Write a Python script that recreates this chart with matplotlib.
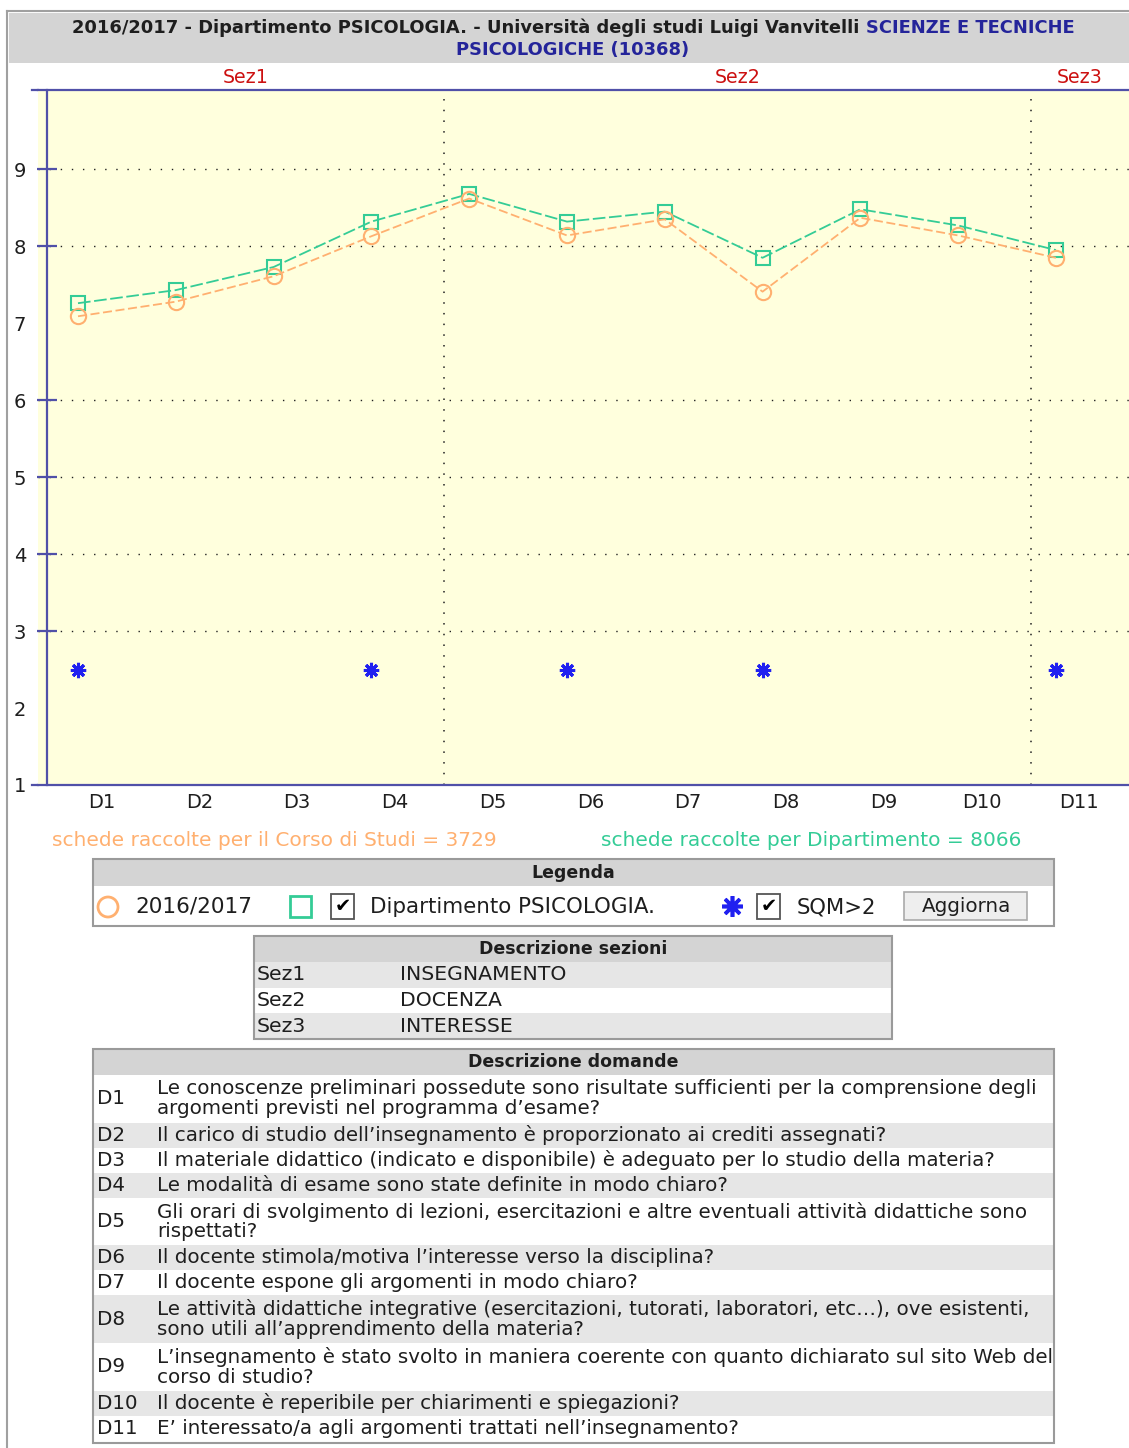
import matplotlib
matplotlib.use('Agg')
import matplotlib.pyplot as plt
from matplotlib.patches import Rectangle, Circle
import numpy as np

# --- Data ---
QUESTIONS = ['D1', 'D2', 'D3', 'D4', 'D5', 'D6', 'D7', 'D8', 'D9', 'D10', 'D11']
CORSO = [7.09, 7.28, 7.61, 8.13, 8.62, 8.14, 8.35, 7.41, 8.37, 8.14, 7.85]
DIPARTIMENTO = [7.26, 7.43, 7.73, 8.32, 8.68, 8.32, 8.45, 7.85, 8.48, 8.27, 7.95]
SQM_FLAGGED = ['D1', 'D4', 'D6', 'D8', 'D11']
SQM_LEVEL = 2.5
SECTIONS = ['Sez1', 'Sez2', 'Sez3']
SECTION_FIRST = ['D1', 'D5', 'D11']
SECTION_NAMES = ['INSEGNAMENTO', 'DOCENZA', 'INTERESSE']
Y_LABELS = [1, 2, 3, 4, 5, 6, 7, 8, 9]
GRID_LEVELS = [3, 4, 5, 6, 8, 9]
N_CORSO = 3729
N_DIPARTIMENTO = 8066
QUESTION_TEXT = [
    "Le conoscenze preliminari possedute sono risultate sufficienti per la comprensione degli\nargomenti previsti nel programma d\u2019esame?",
    "Il carico di studio dell\u2019insegnamento \u00e8 proporzionato ai crediti assegnati?",
    "Il materiale didattico (indicato e disponibile) \u00e8 adeguato per lo studio della materia?",
    "Le modalit\u00e0 di esame sono state definite in modo chiaro?",
    "Gli orari di svolgimento di lezioni, esercitazioni e altre eventuali attivit\u00e0 didattiche sono\nrispettati?",
    "Il docente stimola/motiva l\u2019interesse verso la disciplina?",
    "Il docente espone gli argomenti in modo chiaro?",
    "Le attivit\u00e0 didattiche integrative (esercitazioni, tutorati, laboratori, etc\u2026), ove esistenti,\nsono utili all\u2019apprendimento della materia?",
    "L\u2019insegnamento \u00e8 stato svolto in maniera coerente con quanto dichiarato sul sito Web del\ncorso di studio?",
    "Il docente \u00e8 reperibile per chiarimenti e spiegazioni?",
    "E\u2019 interessato/a agli argomenti trattati nell\u2019insegnamento?",
]

# --- Style ---
ORANGE = '#FFB070'
GREEN = '#34CC96'
STAR_BLUE = '#2020F0'
AXIS_BLUE = '#5050A8'
TITLE_BLUE = '#24249A'
SEZ_RED = '#CC1010'
TEXT = '#1E1E1E'
HEAD_GRAY = '#D4D4D4'
ROW_GRAY = '#E6E6E6'
FRAME = '#A0A0A0'
DOTS = (0, (1, 7))

W, H = 1129, 1448
plt.rcParams['font.family'] = 'DejaVu Sans'

fig = plt.figure(figsize=(W / 100, H / 100), dpi=100)

# page layer in pixel coordinates (y downwards)
page = fig.add_axes([0, 0, 1, 1])
page.set_xlim(0, W)
page.set_ylim(H, 0)
page.axis('off')
page.set_zorder(0)


def px_rect(x0, y0, x1, y1):
    return [x0 / W, 1 - y1 / H, (x1 - x0) / W, (y1 - y0) / H]


ax = fig.add_axes(px_rect(38, 90, 1129, 785))
ax.set_zorder(1)
ax.set_facecolor('#FFFFDD')

x = np.arange(1, len(QUESTIONS) + 1)
label_shift = 0.24
spine_x = 0.683
x_right = 11.747
ax.set_xlim(0.591, x_right)
ax.set_ylim(1, 10.03)

# spines
ax.spines['right'].set_visible(False)
ax.spines['left'].set_position(('data', spine_x))
for s in ['left', 'top', 'bottom']:
    ax.spines[s].set_color(AXIS_BLUE)
    ax.spines[s].set_linewidth(1.6)

# y axis: labels on every unit, ticks + grid only at some levels
ax.yaxis.remove_overlapping_locs = False
ax.set_yticks(Y_LABELS)
ax.set_yticks(GRID_LEVELS, minor=True)
ax.tick_params(axis='y', which='major', length=0, pad=15, labelsize=14, labelcolor=TEXT)
ax.tick_params(axis='y', which='minor', direction='inout', length=15, width=1.6, color=AXIS_BLUE)
ax.grid(which='minor', axis='y', color='#202020', linestyle=DOTS, linewidth=1.0)

# x axis labels sit right of the points
ax.set_xticks(x + label_shift, QUESTIONS)
ax.tick_params(axis='x', length=0, pad=6, labelsize=14, labelcolor=TEXT)

# section dividers and labels
bounds = [QUESTIONS.index(q) + 1 + label_shift - 0.5 for q in SECTION_FIRST]
for b in bounds[1:]:
    ax.axvline(b, color='#202020', linestyle=(0, (1, 6)), linewidth=1.1)
edges = [spine_x] + bounds[1:] + [x_right]
for i, name in enumerate(SECTIONS):
    ax.text((edges[i] + edges[i + 1]) / 2, 1.0175, name, transform=ax.get_xaxis_transform(),
            ha='center', va='center', color=SEZ_RED, fontsize=13.7, clip_on=False)

# series
ax.plot(x, DIPARTIMENTO, color=GREEN, linestyle=(0, (7, 2)), linewidth=1.3,
        marker='s', markersize=10, markerfacecolor='none', markeredgewidth=1.5, zorder=3)
ax.plot(x, CORSO, color=ORANGE, linestyle=(0, (5, 2)), linewidth=1.3,
        marker='o', markersize=11, markerfacecolor='none', markeredgewidth=1.5, zorder=3)
sqm_x = [QUESTIONS.index(q) + 1 for q in SQM_FLAGGED]
ax.plot(sqm_x, [SQM_LEVEL] * len(sqm_x), linestyle='none', marker=(8, 2, 0),
        markersize=11, markeredgewidth=2.2, color=STAR_BLUE, zorder=3)

# --- page decorations ---
page.plot([7, 7], [11, H], color=FRAME, linewidth=1.5)
page.plot([7, W], [11, 11], color=FRAME, linewidth=1.5)
page.add_patch(Rectangle((9, 13), W - 9, 50, facecolor=HEAD_GRAY, edgecolor='none'))
page.plot([32, 38], [90, 90], color=AXIS_BLUE, linewidth=1.6)
page.plot([32, 38], [785, 785], color=AXIS_BLUE, linewidth=1.6)

renderer = fig.canvas.get_renderer()


def text_runs(runs, xc, y, **kw):
    """Draw consecutive coloured pieces of one line centred on xc."""
    pieces = [page.text(0, y, s, color=c, ha='left', va='center', **kw) for s, c in runs]
    widths = [p.get_window_extent(renderer).width for p in pieces]
    pos = xc - sum(widths) / 2
    for p, w in zip(pieces, widths):
        p.set_x(pos)
        pos += w


text_runs([("2016/2017 - Dipartimento PSICOLOGIA. - Universit\u00e0 degli studi Luigi Vanvitelli ", TEXT),
           ("SCIENZE E TECNICHE", TITLE_BLUE)], 573, 28, fontsize=12.9, fontweight='bold')
text_runs([("PSICOLOGICHE (10368)", TITLE_BLUE)], 573, 50, fontsize=12.9, fontweight='bold')

page.text(52, 840, f"schede raccolte per il Corso di Studi = {N_CORSO}", color=ORANGE,
          va='center', fontsize=14.5)
page.text(601, 840, f"schede raccolte per Dipartimento = {N_DIPARTIMENTO}", color=GREEN,
          va='center', fontsize=14.5)


def box(x0, y0, x1, y1, title, head_h=27):
    page.add_patch(Rectangle((x0, y0), x1 - x0, head_h, facecolor=HEAD_GRAY, edgecolor='none'))
    page.text((x0 + x1) / 2, y0 + head_h / 2, title, ha='center', va='center',
              fontsize=12.5, fontweight='bold', color=TEXT)
    page.add_patch(Rectangle((x0, y0), x1 - x0, y1 - y0, facecolor='none',
                             edgecolor='#9A9A9A', linewidth=1.5, zorder=5))


def checkbox(x0, y0):
    page.add_patch(Rectangle((x0, y0), 23, 25, facecolor='white', edgecolor='#555555', linewidth=1.3))
    page.text(x0 + 11.5, y0 + 13, '\u2714', ha='center', va='center', fontsize=14, color='black')


# legend
box(93, 859, 1054, 926, 'Legenda')
page.add_patch(Circle((108, 907), 10, facecolor='none', edgecolor=ORANGE, linewidth=2))
page.text(135, 907, '2016/2017', va='center', fontsize=15.6, color=TEXT)
page.add_patch(Rectangle((290, 896), 21, 21, facecolor='none', edgecolor=GREEN, linewidth=2))
checkbox(331, 894)
page.text(370, 907, 'Dipartimento PSICOLOGIA.', va='center', fontsize=15.4, color=TEXT)
page.plot([732], [906], marker=(8, 2, 0), markersize=15, markeredgewidth=2.6, color=STAR_BLUE)
checkbox(757, 894)
page.text(797, 907, 'SQM>2', va='center', fontsize=15.2, color=TEXT)
page.add_patch(Rectangle((904, 892), 123, 28, facecolor='#EEEEEE', edgecolor='#AAAAAA', linewidth=1.2))
page.text(966, 906, 'Aggiorna', ha='center', va='center', fontsize=14.3, color=TEXT)

# sections table
row_y = 962
for i, (sez, name) in enumerate(zip(SECTIONS, SECTION_NAMES)):
    fc = ROW_GRAY if i % 2 == 0 else 'white'
    page.add_patch(Rectangle((254, row_y), 638, 25.5, facecolor=fc, edgecolor='none'))
    page.text(257, row_y + 13, sez, va='center', fontsize=14.7, color=TEXT)
    page.text(400, row_y + 13, name, va='center', fontsize=14.7, color=TEXT)
    row_y += 25.5
box(254, 936, 892, 1039, 'Descrizione sezioni', head_h=26)

# questions table
row_y = 1075
for i, (q, txt) in enumerate(zip(QUESTIONS, QUESTION_TEXT)):
    n_lines = txt.count('\n') + 1
    h = 25 + 22.7 * (n_lines - 1)
    fc = 'white' if i % 2 == 0 else ROW_GRAY
    page.add_patch(Rectangle((94, row_y), 959, h, facecolor=fc, edgecolor='none'))
    page.text(97, row_y + h / 2, q, va='center', fontsize=14.3, color=TEXT)
    page.text(157, row_y + h / 2, txt, va='center', fontsize=14.3, color=TEXT, linespacing=1.05)
    row_y += h
box(93, 1049, 1054, 1443, 'Descrizione domande', head_h=26)

fig.savefig('out.png', dpi=100)
